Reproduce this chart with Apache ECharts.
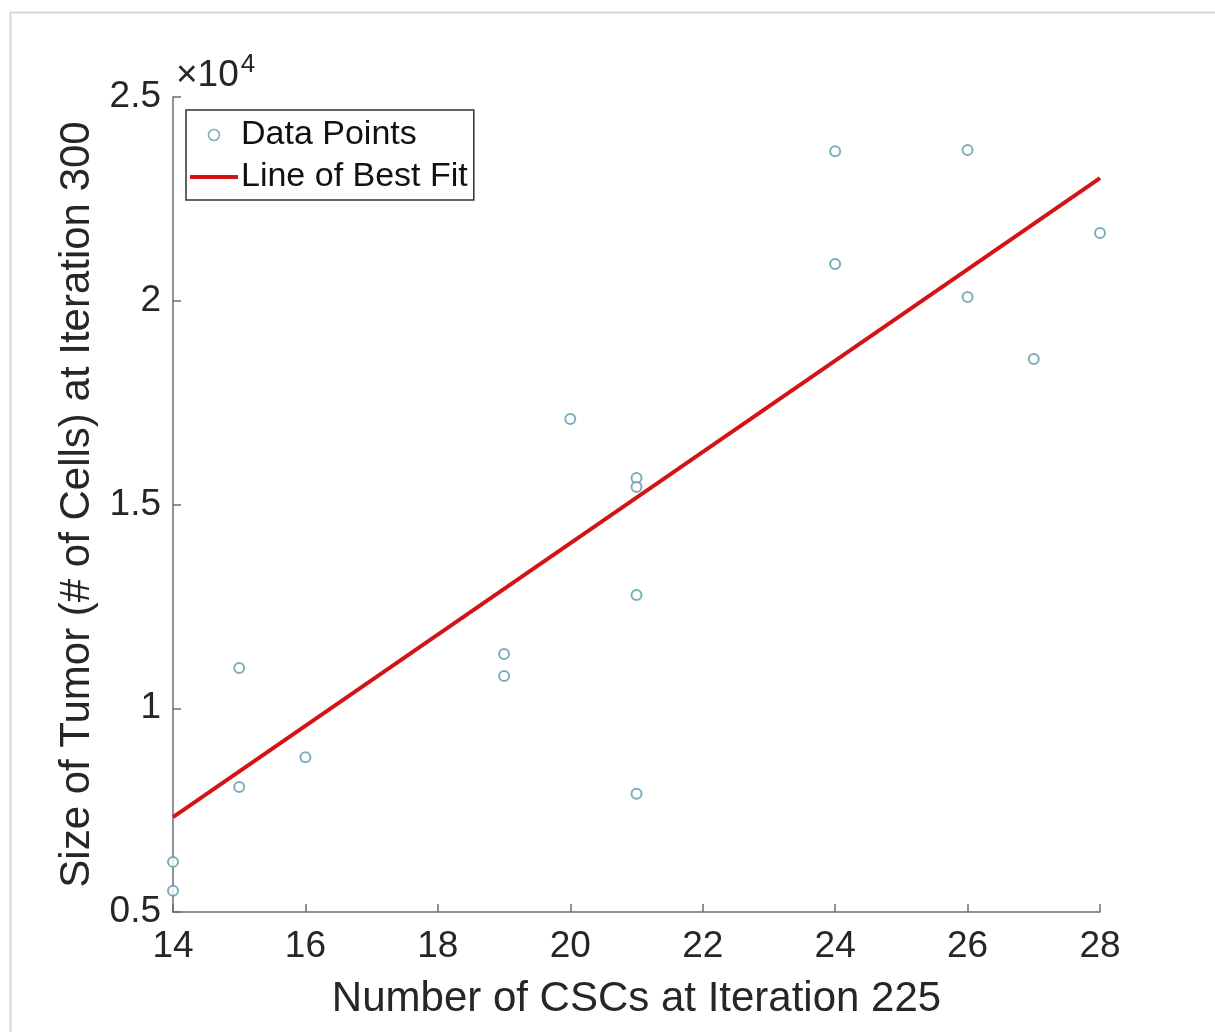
<!DOCTYPE html>
<html>
<head>
<meta charset="utf-8">
<script src="https://cdn.jsdelivr.net/npm/echarts@6/dist/echarts.min.js"></script>
<style>
html,body{margin:0;padding:0;background:#fff;}
#chart{width:1215px;height:1032px;}
</style>
</head>
<body>
<div id="chart"></div>
<script>
const csc = [14, 14, 15, 15, 16, 19, 19, 20, 21, 21, 21, 21, 24, 24, 26, 26, 27, 28];
const tumorSize = [6230, 5520, 10990, 8070, 8800, 11330, 10790, 17100, 15650, 15430, 12780, 7900, 23670, 20900, 23700, 20090, 18570, 21660];
const fitX = [14, 28];
const fitY = [7330, 23010];
const xTicks = [14, 16, 18, 20, 22, 24, 26, 28];
const yTicks = [0.5, 1, 1.5, 2, 2.5];

const font = 'Liberation Sans, Arial, sans-serif';
const chart = echarts.init(document.getElementById('chart'));
chart.setOption({
  backgroundColor: '#fff',
  animation: false,
  grid: {left: 173, right: 115, top: 97, bottom: 120, containLabel: false},
  legend: {
    orient: 'vertical', left: 186, top: 110,
    backgroundColor: '#fff', borderColor: '#333', borderWidth: 1.5,
    padding: [8, 6, 6, 4], itemGap: 8, itemWidth: 48, itemHeight: 11,
    symbolKeepAspect: true,
    textStyle: {fontFamily: font, fontSize: 34, color: '#111', padding: [0, 0, 0, -2]},
    data: [
      {name: 'Data Points', icon: 'circle', itemStyle: {color: '#fff', borderColor: '#5a9aaa', borderWidth: 1.5}},
      {name: 'Line of Best Fit', icon: 'path://M0,0 H48 V4 H0 Z', itemStyle: {color: '#d41414', borderWidth: 0}}
    ]
  },
  xAxis: {
    type: 'value', min: 14, max: 28, interval: 2,
    name: 'Number of CSCs at Iteration 225', nameLocation: 'middle', nameGap: 66,
    nameTextStyle: {fontFamily: font, fontSize: 42, color: '#262626'},
    axisLine: {lineStyle: {color: '#6e6e6e', width: 1.5}},
    axisTick: {show: true, inside: true, length: 8, lineStyle: {color: '#6e6e6e', width: 1.5}},
    axisLabel: {fontFamily: font, fontSize: 37, color: '#262626', margin: 16,
      formatter: v => xTicks.includes(v) ? String(v) : ''},
    splitLine: {show: false}
  },
  yAxis: {
    type: 'value', min: 5000, max: 25000, interval: 5000,
    name: 'Size of Tumor (# of Cells) at Iteration 300', nameLocation: 'middle', nameGap: 69,
    nameTextStyle: {fontFamily: font, fontSize: 42, color: '#262626'},
    axisLine: {lineStyle: {color: '#6e6e6e', width: 1.5}},
    axisTick: {show: true, inside: true, length: 8, lineStyle: {color: '#6e6e6e', width: 1.5}},
    axisLabel: {fontFamily: font, fontSize: 37, color: '#262626', margin: 12,
      formatter: v => { const t = v / 10000; return yTicks.includes(t) ? String(t) : ''; }},
    splitLine: {show: false}
  },
  graphic: [
    {type: 'rect', left: 8, top: 10, shape: {width: 1210, height: 1030},
      style: {fill: 'none', stroke: '#d8d8d8', lineWidth: 2}},
    {type: 'text', left: 176, top: 52,
      style: {text: '×10{s|4}', fontFamily: font, fontSize: 37, fill: '#262626',
        rich: {s: {fontSize: 26, verticalAlign: 'top', padding: [0, 0, 22, 2], fill: '#262626', fontFamily: font}}}}
  ],
  series: [
    {
      name: 'Data Points', type: 'scatter', symbol: 'emptyCircle', symbolSize: 10,
      itemStyle: {color: '#5a9aaa', borderColor: '#5a9aaa', borderWidth: 1.5},
      data: csc.map((x, i) => [x, tumorSize[i]]), z: 3
    },
    {
      name: 'Line of Best Fit', type: 'line', showSymbol: false, symbol: 'none',
      itemStyle: {color: '#d41414'},
      lineStyle: {color: '#d41414', width: 4},
      data: fitX.map((x, i) => [x, fitY[i]]), z: 2
    }
  ]
});
</script>
</body>
</html>
